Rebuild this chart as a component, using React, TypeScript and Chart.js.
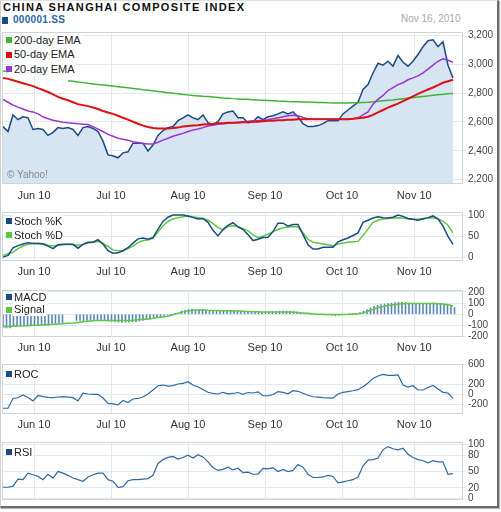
import React, { useEffect, useRef } from 'react';
import { Chart, registerables } from 'chart.js';

Chart.register(...registerables);

const FONT = '"Liberation Sans", Arial, Helvetica, sans-serif';

// ---- x axis (sample index units; one sample ≈ one point every 5px) ----
const TICK_LABELS = ['Jun 10', 'Jul 10', 'Aug 10', 'Sep 10', 'Oct 10', 'Nov 10'];
const TICK_POS = [6.2, 21.6, 37, 52.4, 67.8, 82.26];
const X_MIN = -0.2;
const X_MAX = 92;
const MACD_STEP = 0.7; // MACD bars are daily (denser than the sampled lines)

// ---- price panel ----
const PRICE = [
  2568, 2534, 2649, 2616, 2636, 2629, 2548, 2555, 2548, 2507,
  2528, 2561, 2555, 2561, 2548, 2507, 2561, 2568, 2555, 2534,
  2467, 2372, 2366, 2352, 2386, 2393, 2453, 2453, 2453, 2399,
  2440, 2507, 2541, 2561, 2568, 2609, 2629, 2649, 2629, 2616,
  2649, 2595, 2582, 2602, 2656, 2670, 2676, 2629, 2629, 2595,
  2602, 2636, 2616, 2636, 2643, 2656, 2670, 2656, 2670, 2636,
  2589, 2568, 2568, 2575, 2589, 2609, 2609, 2609, 2656, 2683,
  2710, 2737, 2825, 2859, 2940, 3007, 2994, 3021, 2987, 3061,
  3014, 2987, 3021, 3068, 3122, 3163, 3170, 3122, 3156, 2994,
  2906,
];
// hidden behind the legend where null
const EMA200 = [
  2953, 2948, null, null, null, null, null, null, null, null,
  null, null, null, 2886, 2882, 2878, 2873, 2868, 2864, 2860,
  2857, 2853, 2849, 2845, 2841, 2837, 2833, 2829, 2824, 2820,
  2816, 2812, 2808, 2803, 2799, 2795, 2791, 2788, 2784, 2781,
  2778, 2776, 2773, 2770, 2767, 2765, 2762, 2760, 2758, 2757,
  2755, 2753, 2751, 2749, 2747, 2745, 2744, 2742, 2741, 2740,
  2739, 2738, 2737, 2736, 2735, 2733, 2732, 2732, 2732, 2732,
  2733, 2733, 2735, 2737, 2740, 2743, 2747, 2750, 2753, 2757,
  2761, 2765, 2769, 2773, 2777, 2781, 2785, 2789, 2792, 2795,
  2798,
];
const EMA50 = [
  2906, 2899, 2889, 2879, 2869, 2859, 2849, 2835, 2822, 2808,
  2791, 2774, 2761, 2751, 2737, 2724, 2717, 2710, 2700, 2690,
  2676, 2666, 2656, 2643, 2629, 2616, 2602, 2588, 2575, 2565,
  2558, 2555, 2555, 2555, 2558, 2561, 2568, 2572, 2575, 2578,
  2582, 2585, 2588, 2592, 2592, 2595, 2595, 2595, 2599, 2599,
  2602, 2602, 2605, 2609, 2609, 2612, 2612, 2616, 2616, 2619,
  2619, 2619, 2619, 2619, 2619, 2619, 2619, 2619, 2619, 2619,
  2622, 2626, 2629, 2636, 2649, 2666, 2683, 2700, 2714, 2727,
  2744, 2761, 2778, 2795, 2811, 2825, 2839, 2855, 2872, 2882,
  2893,
];
const EMA20 = [
  2757, 2737, 2717, 2703, 2690, 2676, 2670, 2656, 2636, 2622,
  2612, 2605, 2599, 2595, 2592, 2588, 2585, 2582, 2568, 2551,
  2534, 2514, 2501, 2487, 2480, 2474, 2463, 2457, 2450, 2447,
  2447, 2460, 2474, 2487, 2501, 2511, 2521, 2534, 2545, 2551,
  2561, 2572, 2578, 2585, 2588, 2592, 2595, 2599, 2602, 2605,
  2609, 2609, 2612, 2616, 2622, 2629, 2636, 2643, 2646, 2643,
  2632, 2622, 2619, 2619, 2619, 2619, 2619, 2619, 2619, 2619,
  2622, 2629, 2649, 2670, 2724, 2757, 2784, 2818, 2839, 2859,
  2872, 2893, 2906, 2920, 2940, 2967, 2994, 3021, 3038, 3028,
  3014,
];
const PRICE_TICKS = [2200, 2400, 2600, 2800, 3000, 3200];

// ---- stochastics ----
const STOCH_K = [
  1, 5, 23, 28, 32, 35, 33, 33, 32, 27,
  21, 30, 31, 31, 31, 22, 31, 36, 36, 42,
  32, 16, 10, 11, 16, 23, 34, 44, 46, 43,
  47, 67, 85, 95, 100, 100, 100, 98, 94, 91,
  92, 83, 64, 51, 66, 76, 82, 72, 66, 54,
  40, 43, 47, 48, 61, 81, 81, 74, 78, 78,
  54, 30, 20, 20, 24, 24, 24, 37, 42, 46,
  52, 58, 83, 88, 93, 96, 94, 93, 95, 100,
  97, 92, 90, 88, 91, 94, 98, 91, 74, 50,
  31,
];
const STOCH_D = [
  5, 9, 12, 21, 27, 31, 33, 33, 33, 29,
  27, 29, 30, 31, 30, 29, 31, 34, 36, 38,
  33, 26, 18, 16, 16, 21, 27, 35, 40, 41,
  46, 60, 75, 85, 91, 94, 96, 98, 96, 94,
  92, 88, 80, 71, 65, 73, 75, 73, 68, 63,
  54, 47, 50, 55, 61, 66, 70, 72, 73, 72,
  58, 43, 36, 34, 32, 30, 27, 32, 34, 36,
  37, 38, 52, 67, 83, 88, 91, 92, 93, 94,
  93, 91, 90, 90, 92, 93, 93, 91, 86, 76,
  58,
];
const STOCH_TICKS = [0, 50, 100];

// ---- MACD ----
const MACD = [
  -118, -123, -123, -110, -105, -105, -105, -105, -105, -103,
  -103, -102, -100, -98, -82, -82, -80, -80, null, null,
  null, -55, -55, -56, -55, -55, -55, -56, -56, -58,
  -60, -64, -68, -70, -72, -72, -70, -68, -66, -62,
  -55, -50, -45, -40, -30, -22, -14, -8, -3, 3,
  8, 28, 38, 42, 45, 42, 40, 42, 38, 32,
  28, 28, 30, 33, 35, 35, 33, 30, 28, 27,
  25, 24, 24, 22, 18, 20, 22, 24, 25, 27,
  28, 28, 26, 24, 20, 14, 8, 3, 0, -3,
  -5, -5, -5, -6, -8, -12, -10, -5, -2, 2,
  5, 8, 14, 28, 42, 58, 70, 80, 86, 92,
  96, 99, 104, 106, 107, 104, 100, 98, 96, 95,
  95, 96, 98, 100, 100, 96, 90, 82, 72, 60,
];
const SIGNAL = [
  -110, -109, -107, -105, -103, -100, -98, -96, -94, -91,
  -90, -87, -85, -81, -78, -73, -68, -63, -59, -56,
  -55, -55, -55, -55, -55, -55, -53, -49, -45, -42,
  -37, -30, -24, -17, -4, 9, 21, 30, 35, 37,
  37, 35, 34, 33, 32, 31, 30, 29, 27, 25,
  23, 22, 21, 21, 21, 21, 21, 21, 19, 16,
  12, 8, 4, 1, -1, -2, -2, -3, -2, -1,
  1, 4, 12, 27, 45, 60, 70, 78, 85, 90,
  93, 95, 95, 95, 95, 95, 95, 93, 91, 85,
  75,
];
const MACD_TICKS = [-200, -100, 0, 100, 200];

// ---- ROC ----
const ROC = [
  -271, -271, -78, -65, -10, -59, -127, -20, -43, -55,
  -63, -49, -43, -53, -63, -127, 24, 10, 4, 4,
  -69, -176, -186, -206, -118, -157, -88, -78, -49, 10,
  88, 173, 186, 163, 176, 206, 220, 251, 186, 147,
  98, 43, 20, 10, 43, 14, 20, 39, 4, 39,
  29, 53, -25, -25, 0, 55, 43, 14, 75, 63,
  24, -14, -45, -53, -63, -67, -71, 10, 43, 57,
  73, 94, 153, 225, 314, 363, 396, 376, 375, 386,
  186, 147, 173, 88, 88, 137, 176, 108, 43, 29,
  -75,
];
const ROC_TICKS = [-200, 0, 200, 600];

// ---- RSI ----
const RSI = [
  21, 21, 23, 36, 35, 47, 44, 41, 35, 45,
  38, 50, 47, 43, 38, 35, 32, 40, 44, 47,
  47, 35, 32, 21, 22, 33, 35, 35, 36, 37,
  43, 65, 72, 76, 78, 73, 76, 80, 75, 81,
  77, 68, 57, 52, 54, 58, 53, 56, 48, 49,
  45, 45, 56, 55, 57, 50, 54, 50, 52, 63,
  58, 45, 39, 39, 40, 43, 41, 29, 31, 33,
  35, 40, 60, 71, 72, 75, 90, 96, 92, 90,
  93, 82, 76, 72, 70, 66, 70, 68, 68, 45,
  46,
];
const RSI_TICKS = [0, 20, 50, 80, 100];

// ---- styling ----
const NAVY = '#1c4b82';
const LINE_BLUE = '#2f69a3';
const BAR_BLUE = '#5683b8';
const GREEN = '#3fb532';
const LIGHT_GREEN = '#5cc83e';
const RED = '#dd1111';
const PURPLE = '#9a35d0';
const FILL = '#d6e5f1';
const GRID = '#e2e8ef';
const BORDER = '#cfd4da';
const CANVAS_W = 497;
const PLOT_LEFT = 2;
const PLOT_RIGHT = 463;

const pts = (arr: (number | null)[], step = 1) =>
  arr.map((y, i) => ({ x: i * step, y }));

const lineDs = (arr: (number | null)[], color: string, width: number, extra: any = {}) => ({
  type: 'line' as const,
  data: pts(arr),
  borderColor: color,
  borderWidth: width,
  pointRadius: 0,
  tension: 0,
  fill: false,
  spanGaps: false,
  ...extra,
});

const plotBorder = {
  id: 'plotBorder',
  afterDatasetsDraw(chart: any) {
    const { ctx, chartArea: a } = chart;
    ctx.save();
    ctx.strokeStyle = BORDER;
    ctx.lineWidth = 1;
    ctx.strokeRect(Math.round(a.left) + 0.5, Math.round(a.top) + 0.5, Math.round(a.width) - 1, Math.round(a.height) - 1);
    ctx.restore();
  },
};

type PanelProps = {
  top: number;
  height: number;
  plotTop: number;
  plotBottom: number;
  showX: boolean;
  labelPad: number;
  yMin: number;
  yMax: number;
  yTicks: number[];
  yFmt: (v: number) => string;
  datasets: any[];
};

function Panel(p: PanelProps) {
  const ref = useRef<HTMLCanvasElement>(null);
  useEffect(() => {
    const chart = new Chart(ref.current as HTMLCanvasElement, {
      type: 'line',
      data: { datasets: p.datasets },
      options: {
        responsive: false,
        animation: false,
        events: [],
        layout: { padding: { left: PLOT_LEFT, right: 0, top: p.plotTop - p.top, bottom: 0 } },
        plugins: { legend: { display: false }, tooltip: { enabled: false } },
        scales: {
          x: {
            type: 'linear',
            min: X_MIN,
            max: X_MAX,
            offset: false,
            afterBuildTicks: (s: any) => {
              s.ticks = TICK_POS.map((v) => ({ value: v }));
            },
            afterFit: (s: any) => {
              s.height = p.top + p.height - p.plotBottom;
            },
            ticks: {
              display: p.showX,
              autoSkip: false,
              maxRotation: 0,
              padding: p.labelPad,
              color: '#333',
              font: { family: FONT, size: 11 },
              callback: (_v: any, i: number) => TICK_LABELS[i],
            },
            grid: { color: GRID, drawTicks: false, offset: false },
            border: { display: false },
          },
          y: {
            type: 'linear',
            position: 'right',
            min: p.yMin,
            max: p.yMax,
            afterBuildTicks: (s: any) => {
              s.ticks = p.yTicks.map((v) => ({ value: v }));
            },
            afterFit: (s: any) => {
              s.width = CANVAS_W - PLOT_RIGHT;
            },
            ticks: {
              autoSkip: false,
              padding: 2,
              color: '#444',
              font: { family: FONT, size: 10 },
              callback: (v: any) => p.yFmt(Number(v)),
            },
            grid: { color: GRID, drawTicks: true, tickLength: 3 },
            border: { display: false },
          },
        },
      } as any,
      plugins: [plotBorder],
    });
    return () => chart.destroy();
  }, []);
  return (
    <canvas
      ref={ref}
      width={CANVAS_W}
      height={p.height}
      style={{ position: 'absolute', left: 0, top: p.top, width: CANVAS_W, height: p.height }}
    />
  );
}

type LegendItem = { label: string; color: string };
function Legend({ left, top, rowH, items }: { left: number; top: number; rowH: number; items: LegendItem[] }) {
  return (
    <div style={{ position: 'absolute', left, top, font: `11px ${FONT}`, color: '#222' }}>
      {items.map((it) => (
        <div key={it.label} style={{ display: 'flex', alignItems: 'center', height: rowH }}>
          <span style={{ display: 'inline-block', width: 6, height: 6, background: it.color, marginRight: 1 }} />
          <span style={{ background: '#fff', lineHeight: `${rowH}px`, padding: '0 1px', whiteSpace: 'nowrap' }}>{it.label}</span>
        </div>
      ))}
    </div>
  );
}

const comma = (v: number) => v.toLocaleString('en-US');
const plain = (v: number) => String(v);

export default function App() {
  return (
    <div style={{ position: 'absolute', left: 0, top: 0, width: 501, height: 512, background: '#fff', fontFamily: FONT }}>
      <div
        style={{
          position: 'absolute',
          left: 0,
          top: 0,
          width: 496,
          height: 505,
          borderLeft: '1px solid #d0d0d0',
          borderTop: '1px solid #e0e0e0',
          borderRight: '2px solid #6a6a6a',
          borderBottom: '2px solid #6a6a6a',
          boxShadow: '1px 1px 1px #b8b8b8',
        }}
      />
      <div
        style={{
          position: 'absolute',
          left: 3,
          top: 1,
          font: `bold 11px ${FONT}`,
          letterSpacing: '1.35px',
          color: '#111',
          whiteSpace: 'nowrap',
        }}
      >
        CHINA SHANGHAI COMPOSITE INDEX
      </div>
      <div style={{ position: 'absolute', left: 2, top: 17, width: 6, height: 7, background: NAVY }} />
      <div style={{ position: 'absolute', left: 13, top: 14, font: `bold 10px ${FONT}`, color: '#2a67a8', letterSpacing: '0.3px' }}>
        000001.SS
      </div>
      <div style={{ position: 'absolute', left: 401, top: 13, font: `10px ${FONT}`, color: '#aaa', whiteSpace: 'nowrap' }}>
        Nov 16, 2010
      </div>

      <Panel
        top={24}
        height={180}
        plotTop={28}
        plotBottom={184}
        showX={true}
        labelPad={5}
        yMin={2170}
        yMax={3224}
        yTicks={PRICE_TICKS}
        yFmt={comma}
        datasets={[
          lineDs(EMA50, RED, 2),
          lineDs(EMA20, PURPLE, 1.5),
          lineDs(EMA200, GREEN, 1.5),
          lineDs(PRICE, NAVY, 1.5, { fill: 'start', backgroundColor: FILL }),
        ]}
      />
      <Panel
        top={204}
        height={78}
        plotTop={209}
        plotBottom={261}
        showX={true}
        labelPad={4}
        yMin={-8.2}
        yMax={107.3}
        yTicks={STOCH_TICKS}
        yFmt={plain}
        datasets={[lineDs(STOCH_K, NAVY, 1.5), lineDs(STOCH_D, LIGHT_GREEN, 1.5)]}
      />
      <Panel
        top={282}
        height={74}
        plotTop={286}
        plotBottom={337}
        showX={true}
        labelPad={4}
        yMin={-203.3}
        yMax={216.5}
        yTicks={MACD_TICKS}
        yFmt={plain}
        datasets={[
          lineDs(SIGNAL, LIGHT_GREEN, 1.5),
          {
            type: 'bar',
            data: pts(MACD, MACD_STEP).filter((d) => d.y !== null),
            backgroundColor: BAR_BLUE,
            borderWidth: 0,
            barThickness: 0.9,
          },
        ]}
      />
      <Panel
        top={356}
        height={78}
        plotTop={364}
        plotBottom={414}
        showX={true}
        labelPad={4}
        yMin={-384}
        yMax={600}
        yTicks={ROC_TICKS}
        yFmt={plain}
        datasets={[lineDs(ROC, LINE_BLUE, 1.2)]}
      />
      <Panel
        top={434}
        height={74}
        plotTop={439}
        plotBottom={503}
        showX={false}
        labelPad={4}
        yMin={-2.5}
        yMax={104.5}
        yTicks={RSI_TICKS}
        yFmt={plain}
        datasets={[lineDs(RSI, LINE_BLUE, 1.2)]}
      />

      <Legend
        left={6}
        top={32.75}
        rowH={14.5}
        items={[
          { label: '200-day EMA', color: GREEN },
          { label: '50-day EMA', color: RED },
          { label: '20-day EMA', color: PURPLE },
        ]}
      />
      <div style={{ position: 'absolute', left: 7, top: 169, font: `10px ${FONT}`, color: '#888', whiteSpace: 'nowrap' }}>
        © Yahoo!
      </div>
      <Legend
        left={6}
        top={214}
        rowH={14}
        items={[
          { label: 'Stoch %K', color: NAVY },
          { label: 'Stoch %D', color: LIGHT_GREEN },
        ]}
      />
      <Legend
        left={6}
        top={291.1}
        rowH={12.4}
        items={[
          { label: 'MACD', color: NAVY },
          { label: 'Signal', color: LIGHT_GREEN },
        ]}
      />
      <Legend left={6} top={367.3} rowH={14} items={[{ label: 'ROC', color: NAVY }]} />
      <Legend left={6} top={444.7} rowH={14} items={[{ label: 'RSI', color: NAVY }]} />
    </div>
  );
}
